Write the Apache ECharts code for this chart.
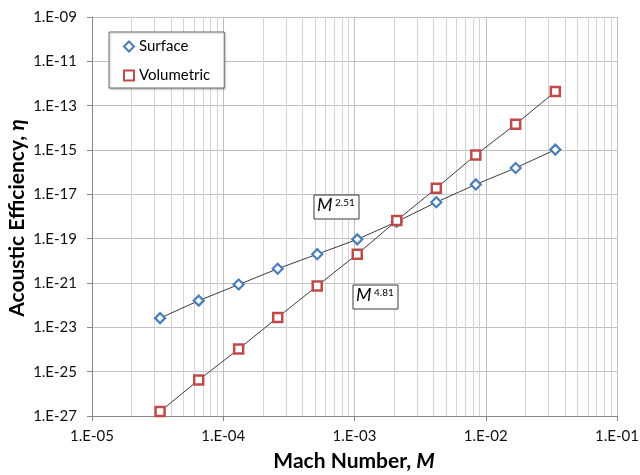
<!DOCTYPE html>
<html><head><meta charset="utf-8">
<script src="https://cdn.jsdelivr.net/npm/echarts@6/dist/echarts.min.js"></script>
<style>html,body{margin:0;padding:0;background:#fff}#c{width:640px;height:475px}</style>
</head><body><div id="c"></div>
<script>
// Mach numbers (x) and acoustic efficiency (y)
const machNumbers   = [3.3e-5, 6.5e-5, 1.31e-4, 2.6e-4, 5.2e-4, 1.05e-3, 2.1e-3, 4.2e-3, 8.4e-3, 1.69e-2, 3.39e-2];
const surfaceEff    = [2.6e-23, 1.6e-22, 8.5e-22, 4.4e-21, 2.0e-20, 9.3e-20, 5.8e-19, 4.4e-18, 2.8e-17, 1.55e-16, 1.04e-15];
const volumetricEff = [1.6e-27, 4.2e-26, 1.05e-24, 2.8e-23, 7.4e-22, 2.0e-20, 6.6e-19, 1.9e-17, 6.0e-16, 1.45e-14, 4.3e-13];
const seriesNames   = ['Surface', 'Volumetric'];
const xTitle = ['Mach Number, ', 'M'];
const yTitle = ['Acoustic Efficiency, ', 'η'];
// minor (log) vertical gridlines
const minorGridX = [
  2e-5,3e-5,4e-5,5e-5,6e-5,7e-5,8e-5,9e-5,
  2e-4,3e-4,4e-4,5e-4,6e-4,7e-4,8e-4,9e-4,
  2e-3,3e-3,4e-3,5e-3,6e-3,7e-3,8e-3,9e-3,
  2e-2,3e-2,4e-2,5e-2,6e-2,7e-2,8e-2,9e-2
];
const yMin = 1e-27, yMax = 1e-9;
// y tick labels are drawn by a companion exponent axis spanning the same range
// (ECharts rounds a 1e-27 log-axis boundary tick to 0, which drops its label)
const yExpMin = -27, yExpMax = -9, yExpStep = 2;
const annotations = [
  {base: 'M', exp: '2.51'},
  {base: 'M', exp: '4.81'}
];

const FONT = 'Lato, "DejaVu Sans", sans-serif';
function expText(e) {
  const a = Math.abs(e);
  return '1.E' + (e < 0 ? '-' : '+') + (a < 10 ? '0' + a : '' + a);
}
function expLabel(v) { return expText(Math.round(Math.log10(v))); }
function pairs(xs, ys) { return xs.map((x, i) => [x, ys[i]]); }

const chart = echarts.init(document.getElementById('c'), null, {renderer: 'canvas'});

function annot(left, top, w, h, a) {
  return {
    type: 'group', x: left, y: top, z: 100,
    children: [
      {type: 'rect', z: 100, shape: {x: 0, y: 0, width: w, height: h}, style: {fill: '#fff', stroke: '#3a3a3a', lineWidth: 1}},
      {type: 'text', z: 101, x: 3, y: 1, style: {text: a.base, font: 'italic 18px ' + FONT, fill: '#000', textVerticalAlign: 'top'}},
      {type: 'text', z: 101, x: 21, y: 3, style: {text: a.exp, font: '10px ' + FONT, fill: '#000', textVerticalAlign: 'top'}}
    ]
  };
}
const titleRich = {
  b: {fontSize: 21, fontWeight: 'bold', fill: '#000', fontFamily: FONT},
  i: {fontSize: 21, fontWeight: 'bold', fontStyle: 'italic', fill: '#000', fontFamily: FONT}
};

chart.setOption({
  animation: false,
  backgroundColor: '#fff',
  textStyle: {fontFamily: FONT},
  grid: {left: 92, right: 23, top: 17, bottom: 59, containLabel: false, outerBoundsMode: 'none'},
  legend: {
    orient: 'vertical', left: 109, top: 32,
    data: [{name: seriesNames[0], icon: 'diamond'}, {name: seriesNames[1], icon: 'rect'}],
    backgroundColor: '#fff', borderColor: '#6e6e6e', borderWidth: 1,
    padding: [6, 14, 4, 14], itemGap: 12, itemWidth: 10, itemHeight: 10, itemTextGap: 5,
    textStyle: {fontSize: 15, color: '#000', lineHeight: 17, fontFamily: FONT},
    shadowColor: 'rgba(0,0,0,0.25)', shadowBlur: 2, shadowOffsetX: 1, shadowOffsetY: 1
  },
  xAxis: {
    type: 'log', logBase: 10, min: 1e-5, max: 1e-1, interval: 1,
    axisLine: {show: true, lineStyle: {color: '#868686', width: 1}},
    axisTick: {show: true, inside: false, length: 5, lineStyle: {color: '#868686'}},
    axisLabel: {fontSize: 15, lineHeight: 10, color: '#111', margin: 15, formatter: expLabel, showMinLabel: true, showMaxLabel: true},
    splitLine: {show: true, lineStyle: {color: '#c0c0c0', width: 1}},
    minorTick: {show: false}, minorSplitLine: {show: false}
  },
  yAxis: [
    {
      type: 'log', logBase: 10, min: yMin, max: yMax, interval: yExpStep,
      axisLine: {show: false}, axisTick: {show: false}, axisLabel: {show: false},
      splitLine: {show: false}, minorTick: {show: false}, minorSplitLine: {show: false}
    },
    {
      type: 'value', position: 'left', min: yExpMin, max: yExpMax, interval: yExpStep,
      axisLine: {show: true, lineStyle: {color: '#868686', width: 1}},
      axisTick: {show: true, inside: false, length: 5, lineStyle: {color: '#868686'}},
      axisLabel: {fontSize: 15, lineHeight: 10, color: '#111', margin: 15, formatter: expText, showMinLabel: true, showMaxLabel: true},
      splitLine: {show: true, lineStyle: {color: '#c0c0c0', width: 1}},
      minorTick: {show: false}, minorSplitLine: {show: false}
    }
  ],
  series: [
    {
      name: '_grid', type: 'lines', coordinateSystem: 'cartesian2d', yAxisIndex: 0, silent: true, z: 1,
      polyline: false, symbol: ['none', 'none'],
      lineStyle: {color: '#d4d4d4', type: 'solid', width: 1, opacity: 1},
      emphasis: {disabled: true},
      data: minorGridX.map(v => ({coords: [[v, yMin], [v, yMax]]}))
    },
    {
      name: seriesNames[0], type: 'line', yAxisIndex: 0, z: 3,
      data: pairs(machNumbers, surfaceEff),
      symbol: 'diamond', symbolSize: 10, showAllSymbol: true,
      lineStyle: {color: '#3c3c3c', width: 1},
      itemStyle: {color: '#fff', borderColor: '#4a7ebb', borderWidth: 2.2},
      emphasis: {disabled: true}
    },
    {
      name: seriesNames[1], type: 'line', yAxisIndex: 0, z: 4,
      data: pairs(machNumbers, volumetricEff),
      symbol: 'rect', symbolSize: 9, showAllSymbol: true,
      lineStyle: {color: '#3c3c3c', width: 1},
      itemStyle: {color: '#fff', borderColor: '#be4b48', borderWidth: 2.5},
      emphasis: {disabled: true}
    }
  ],
  graphic: [
    annot(314, 195, 45, 24, annotations[0]),
    annot(353, 285, 45, 24, annotations[1]),
    {type: 'text', x: 354, y: 461, z: 100,
     style: {text: '{b|' + xTitle[0] + '}{i|' + xTitle[1] + '}', rich: titleRich, textAlign: 'center', textVerticalAlign: 'middle'}},
    {type: 'text', x: 17, y: 218, rotation: Math.PI / 2, z: 100,
     style: {text: '{b|' + yTitle[0] + '}{i|' + yTitle[1] + '}', rich: titleRich, textAlign: 'center', textVerticalAlign: 'middle'}}
  ]
});
</script></body></html>
